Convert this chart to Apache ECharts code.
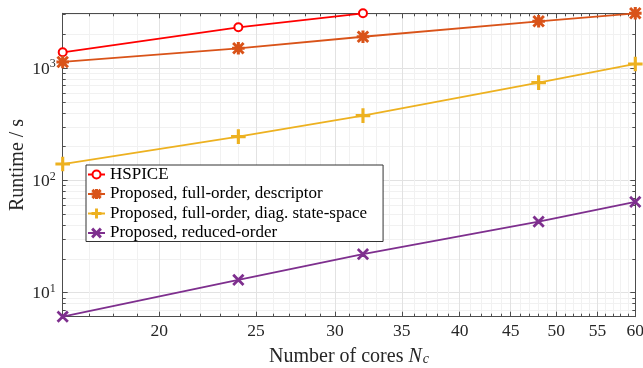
<!DOCTYPE html>
<html>
<head>
<meta charset="utf-8">
<script src="https://cdn.jsdelivr.net/npm/echarts@6/dist/echarts.min.js"></script>
<style>
html, body { margin: 0; padding: 0; background: #fff; }
#main { width: 643px; height: 368px; }
</style>
</head>
<body>
<div id="main"></div>
<script>
// number of cores (x, log scale)
var cores = [16, 24, 32, 48, 60];
// runtimes in seconds (y, log scale)
var hspice = [1388, 2318, 3090];
var descriptor = [1138, 1507, 1910, 2621, 3090];
var diagSS = [140, 246, 378, 745, 1092];
var reduced = [6.1, 13.0, 22.0, 42.9, 64.3];

var seriesNames = [
  "HSPICE",
  "Proposed, full-order, descriptor",
  "Proposed, full-order, diag. state-space",
  "Proposed, reduced-order"
];

var xMajor = [20, 25, 30, 35, 40, 45, 50, 55, 60];
var yMajor = [10, 100, 1000];

var lg = Math.log10;
var FONT = "Liberation Serif";
var AXIS_COLOR = "#4d4d4d";

// minor ticks: every integer core count, and 2..9 x 10^k on y
var xMinor = [];
for (var i = 17; i < 60; i++) {
  if (i % 5 !== 0) xMinor.push(i);
}
var yMinor = [];
[1, 10, 100, 1000].forEach(function (d) {
  for (var k = 2; k <= 9; k++) yMinor.push(k * d);
});

var allY = hspice.concat(descriptor, diagSS, reduced);
var xMin = lg(cores[0]), xMax = lg(cores[cores.length - 1]);
var yMin = lg(Math.min.apply(null, allY)), yMax = lg(Math.max.apply(null, allY));

function toPts(vals) {
  return vals.map(function (v, i) { return [lg(cores[i]), lg(v)]; });
}

function makeAxis(dim, pos, ticks, len, major, labels) {
  var tv = ticks.map(lg);
  var ax = {
    type: "value",
    position: pos,
    min: dim === "x" ? xMin : yMin,
    max: dim === "x" ? xMax : yMax,
    axisLine: { show: major, lineStyle: { color: AXIS_COLOR, width: 1 } },
    axisTick: {
      show: true, inside: true, length: len, customValues: tv,
      lineStyle: { color: AXIS_COLOR, width: 1 }
    },
    axisLabel: { show: false },
    splitLine: {
      show: pos === "bottom" || pos === "left",
      lineStyle: { color: major ? "#e2e2e2" : "#f1f1f1", width: 1 }
    },
    minorTick: { show: false },
    minorSplitLine: { show: false }
  };
  if (labels) {
    ax.axisLabel = {
      show: true,
      customValues: tv,
      fontFamily: FONT,
      fontSize: 17.5,
      color: "#262626",
      margin: dim === "x" ? 6 : 7
    };
  }
  return ax;
}

var xAxes = [
  makeAxis("x", "bottom", xMajor, 5, true, true),
  makeAxis("x", "bottom", xMinor, 3, false, false),
  makeAxis("x", "top", xMajor, 5, true, false),
  makeAxis("x", "top", xMinor, 3, false, false)
];
xAxes[0].axisLabel.formatter = function (v) { return String(Math.round(Math.pow(10, v))); };
xAxes[0].name = "Number of cores {i|N}{s|c}";
xAxes[0].nameLocation = "middle";
xAxes[0].nameGap = 30;
xAxes[0].nameMoveOverlap = false;
xAxes[0].nameTextStyle = {
  fontFamily: FONT, fontSize: 20, color: "#262626",
  rich: {
    i: { fontFamily: FONT, fontSize: 20, fontStyle: "italic", color: "#262626" },
    s: { fontFamily: FONT, fontSize: 14, fontStyle: "italic", color: "#262626", verticalAlign: "bottom", padding: [6, 0, 0, 1] }
  }
};

var yAxes = [
  makeAxis("y", "left", yMajor, 5, true, true),
  makeAxis("y", "left", yMinor, 3, false, false),
  makeAxis("y", "right", yMajor, 5, true, false),
  makeAxis("y", "right", yMinor, 3, false, false)
];
yAxes[0].axisLabel.formatter = function (v) { return "{b|10}{sup|" + Math.round(v) + "}"; };
yAxes[0].axisLabel.rich = {
  b: { fontFamily: FONT, fontSize: 17.5, color: "#262626", lineHeight: 20, verticalAlign: "bottom" },
  sup: { fontFamily: FONT, fontSize: 12, color: "#262626", lineHeight: 20, verticalAlign: "top", padding: [0, 0, 8, 0] }
};
yAxes[0].name = "Runtime / s";
yAxes[0].nameLocation = "middle";
yAxes[0].nameGap = 35;
yAxes[0].nameMoveOverlap = false;
yAxes[0].nameTextStyle = { fontFamily: FONT, fontSize: 20, color: "#262626" };

var plusPath = "path://M-0.7,-6H0.7V-0.7H6V0.7H0.7V6H-0.7V0.7H-6V-0.7H-0.7Z";
var crossPath = "path://M-5,-6L0,-1L5,-6L6,-5L1,0L6,5L5,6L0,1L-5,6L-6,5L-1,0L-6,-5Z";
var starPath = "path://M-0.8,-6H0.8V-0.8H6V0.8H0.8V6H-0.8V0.8H-6V-0.8H-0.8Z" +
  "M-4.6,-5.6L0,-1L4.6,-5.6L5.6,-4.6L1,0L5.6,4.6L4.6,5.6L0,1L-4.6,5.6L-5.6,4.6L-1,0L-5.6,-4.6Z";

function lineSeries(name, vals, color, symbol, size) {
  return {
    name: name,
    type: "line",
    xAxisIndex: 0,
    yAxisIndex: 0,
    data: toPts(vals),
    symbol: symbol,
    symbolSize: size,
    showAllSymbol: true,
    lineStyle: { color: color, width: 1.8 },
    itemStyle: { color: color, borderColor: color, borderWidth: 1.6 },
    emphasis: { disabled: true },
    clip: false,
    z: 3
  };
}

var chart = echarts.init(document.getElementById("main"));
chart.setOption({
  animation: false,
  backgroundColor: "#fff",
  grid: { left: 62.7, top: 13.3, right: 7.7, bottom: 51.3, containLabel: false, outerBoundsMode: "none" },
  xAxis: xAxes,
  yAxis: yAxes,
  legend: {
    orient: "vertical",
    left: 86,
    top: 165,
    itemWidth: 17,
    itemHeight: 10,
    itemGap: 2.5,
    padding: [1, 16, 0, 1],
    borderColor: "#333",
    borderWidth: 1,
    backgroundColor: "#fff",
    textStyle: { fontFamily: FONT, fontSize: 17, color: "#000", lineHeight: 17 },
    data: seriesNames,
    z: 10
  },
  series: [
    lineSeries(seriesNames[0], hspice, "#ff0000", "emptyCircle", 8),
    lineSeries(seriesNames[1], descriptor, "#d95319", starPath, 11),
    lineSeries(seriesNames[2], diagSS, "#edb120", plusPath, 13),
    lineSeries(seriesNames[3], reduced, "#7e2f8e", crossPath, 10)
  ]
});
</script>
</body>
</html>
